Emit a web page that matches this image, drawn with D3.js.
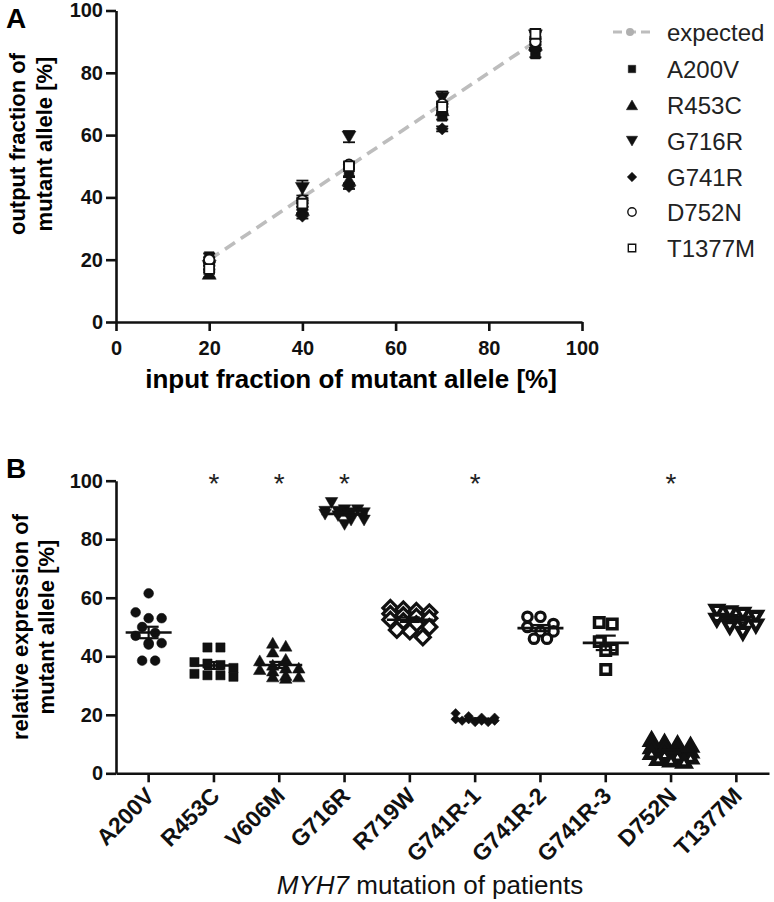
<!DOCTYPE html>
<html><head><meta charset="utf-8">
<script src="https://cdn.jsdelivr.net/npm/d3@7"></script>
<style>
html,body{margin:0;padding:0;background:#fff;}
svg{display:block;font-family:"Liberation Sans",Arial,sans-serif;}
</style></head>
<body><svg id="c" width="774" height="902"></svg>
<script>
// ---------- Panel A data ----------
const inputFractions = [20, 40, 50, 70, 90];
const expectedValues = [20, 40, 50, 70, 90];
const seriesNamesA = ["A200V", "R453C", "G716R", "G741R", "D752N", "T1377M"];
const valuesA200V  = [21, 37, 48, 66, 86];
const valuesR453C  = [15.5, 36, 45.5, 68, 89];
const valuesG716R  = [18, 43, 59.5, 72, 92];
const valuesG741R  = [19, 34, 43.5, 62, 88];
const valuesD752N  = [20, 39, 50.5, 70, 90];
const valuesT1377M = [17, 38, 50, 69, 92.5];
const errA200V  = [1, 1, 1.2, 1, 1];
const errR453C  = [1.2, 1, 1, 1, 1];
const errG716R  = [1, 2.4, 1.8, 2, 1];
const errG741R  = [0.8, 0.8, 0.8, 0.8, 0.8];
const errD752N  = [0.8, 0.8, 0.8, 0.8, 0.8];
const errT1377M = [1, 1, 1, 1.2, 1];
const ticksA = [0, 20, 40, 60, 80, 100];

// ---------- Panel B data ----------
const categoriesB = ["A200V","R453C","V606M","G716R","R719W","G741R-1","G741R-2","G741R-3","D752N","T1377M"];
const exprA200V   = [61.5, 55, 53, 53, 50, 48, 47, 44.5, 44.5, 44, 38.5, 38.5];
const exprR453C   = [43, 43, 38, 37.5, 37, 36, 34, 33.5, 33.5, 33];
const exprV606M   = [44.5, 43.5, 41.5, 39, 38.5, 37, 36, 36, 35.5, 35, 33.5, 33, 33, 32.5];
const exprG716R   = [92.5, 90, 90, 89.5, 89.5, 89, 89, 88.5, 88, 86.5, 86.5, 85];
const exprR719W   = [56.5, 56, 55.5, 55, 54.5, 54, 53.5, 53, 52.5, 52, 51, 50, 49, 48.5, 46.5];
const exprG741R1  = [20.5, 19.5, 19, 19, 18.5, 18.5, 18, 18, 17.5, 17.5, 18];
const exprG741R2  = [53.5, 53.5, 51, 50, 48.5, 48.5, 46, 46];
const exprG741R3  = [51.5, 51, 45, 42.5, 42, 35.5];
const exprD752N   = [11.5, 10.5, 10, 9.5, 9, 8.5, 8, 7.5, 7, 6.5, 6, 5.5, 5, 4.5, 4];
const exprT1377M  = [55.5, 55, 54.5, 53.5, 52.5, 52, 51.5, 50.5, 50, 48];
const significantB = ["R453C","V606M","G716R","G741R-1","D752N"];
const ticksB = [0, 20, 40, 60, 80, 100];

// ---------- helpers ----------
const svg = d3.select("#c");
function markerPath(shape, size){
  const t = {square:d3.symbolSquare, circle:d3.symbolCircle, triUp:d3.symbolTriangle,
             triDown:d3.symbolTriangle, diamond:d3.symbolSquare}[shape];
  return d3.symbol().type(t).size(size)();
}
function markerTransform(shape, x, y){
  let t = `translate(${x},${y})`;
  if (shape === "triDown") t += " rotate(180)";
  if (shape === "diamond") t += " rotate(45)";
  if (shape === "triUp" || shape === "triDown") t += " translate(0,1.5)";
  return t;
}
function drawMarker(g, shape, open, size, x, y, sw){
  g.append("path")
    .attr("d", markerPath(shape, size))
    .attr("transform", markerTransform(shape, x, y))
    .attr("fill", open ? "#fff" : "#111")
    .attr("stroke", "#111")
    .attr("stroke-width", open ? sw : 0.5)
    .attr("stroke-linejoin", "miter");
}
const axisStroke = 2.6;
function styleAxis(g, fs){
  g.selectAll(".domain").attr("stroke","#111").attr("stroke-width",axisStroke);
  g.selectAll(".tick line").attr("stroke","#111").attr("stroke-width",axisStroke);
  g.selectAll(".tick text").attr("fill","#111").attr("font-size",fs).attr("font-weight","bold")
    .attr("font-family","'Liberation Sans',Arial,sans-serif");
}

// ================= PANEL A =================
const xA = d3.scaleLinear().domain([0,100]).range([116, 582]);
const yA = d3.scaleLinear().domain([0,100]).range([322, 10.5]);

const gAy = svg.append("g").attr("transform","translate(116,0)")
  .call(d3.axisLeft(yA).tickValues(ticksA).tickSize(10).tickPadding(3).tickSizeOuter(0));
styleAxis(gAy, "20px");
const gAx = svg.append("g").attr("transform","translate(0,322)")
  .call(d3.axisBottom(xA).tickValues(ticksA).tickSize(9).tickPadding(10).tickSizeOuter(0));
styleAxis(gAx, "20px");

// expected line
const expLine = d3.line().x((d,i)=>xA(inputFractions[i])).y(d=>yA(d));
svg.append("path").attr("d", expLine(expectedValues))
  .attr("fill","none").attr("stroke","#bdbdbd").attr("stroke-width",3.6)
  .attr("stroke-dasharray","12,7");
svg.append("g").selectAll("circle").data(expectedValues).join("circle")
  .attr("cx",(d,i)=>xA(inputFractions[i])).attr("cy",d=>yA(d)).attr("r",4.5).attr("fill","#b0b0b0");

const seriesA = [
  {name:"A200V", vals:valuesA200V, err:errA200V, shape:"square", open:false},
  {name:"R453C", vals:valuesR453C, err:errR453C, shape:"triUp", open:false},
  {name:"G716R", vals:valuesG716R, err:errG716R, shape:"triDown", open:false},
  {name:"G741R", vals:valuesG741R, err:errG741R, shape:"diamond", open:false},
  {name:"D752N", vals:valuesD752N, err:errD752N, shape:"circle", open:true},
  {name:"T1377M", vals:valuesT1377M, err:errT1377M, shape:"square", open:true}
];
const sizeA = {square:95, triUp:85, triDown:85, diamond:75, circle:85};
const gA = svg.append("g");
seriesA.forEach(s=>{
  s.vals.forEach((v,i)=>{
    const x = xA(inputFractions[i]);
    const e = s.err[i];
    gA.append("line").attr("x1",x).attr("x2",x).attr("y1",yA(v-e)).attr("y2",yA(v+e))
      .attr("stroke","#111").attr("stroke-width",1.8);
    [v-e, v+e].forEach(w=>gA.append("line").attr("x1",x-6).attr("x2",x+6).attr("y1",yA(w)).attr("y2",yA(w))
      .attr("stroke","#111").attr("stroke-width",1.8));
  });
});
seriesA.forEach(s=>{
  s.vals.forEach((v,i)=>{
    drawMarker(gA, s.shape, s.open, sizeA[s.shape], xA(inputFractions[i]), yA(v), 1.8);
  });
});

// legend
const legendNames = ["expected"].concat(seriesNamesA);
const legY = [32, 69, 105, 141, 177, 212, 248];
const gL = svg.append("g");
legendNames.forEach((n,i)=>{
  const y = legY[i];
  if (i===0){
    gL.append("line").attr("x1",613).attr("x2",650).attr("y1",y).attr("y2",y)
      .attr("stroke","#bdbdbd").attr("stroke-width",3).attr("stroke-dasharray","9,5");
    gL.append("circle").attr("cx",630).attr("cy",y).attr("r",4).attr("fill","#b0b0b0");
  } else {
    const s = seriesA[i-1];
    drawMarker(gL, s.shape, s.open, s.shape==="diamond"?45:55, 632, y, 1.4);
  }
  gL.append("text").attr("x",667).attr("y",y+8.5).attr("font-size","24px").attr("fill","#222").text(n);
});

// labels A
svg.append("text").attr("x",6).attr("y",28).attr("font-size","28px").attr("font-weight","bold").text("A");
svg.append("text").attr("transform","translate(25,144) rotate(-90)").attr("text-anchor","middle")
  .attr("font-size","22px").attr("font-weight","bold").text("output fraction of");
svg.append("text").attr("transform","translate(52,144) rotate(-90)").attr("text-anchor","middle")
  .attr("font-size","22px").attr("font-weight","bold").text("mutant allele [%]");
svg.append("text").attr("x",351).attr("y",388).attr("text-anchor","middle")
  .attr("font-size","26px").attr("font-weight","bold").text("input fraction of mutant allele [%]");

// ================= PANEL B =================
const xB = d3.scaleBand().domain(categoriesB).range([116, 769]).padding(0);
const yB = d3.scaleLinear().domain([0,100]).range([773.3, 480.7]);

const gBy = svg.append("g").attr("transform","translate(116,0)")
  .call(d3.axisLeft(yB).tickValues(ticksB).tickSize(10).tickPadding(3).tickSizeOuter(0));
styleAxis(gBy, "20px");
const gBx = svg.append("g").attr("transform","translate(0,773.3)")
  .call(d3.axisBottom(xB).tickSize(9).tickSizeOuter(0));
styleAxis(gBx, "23px");
gBx.selectAll(".tick text").attr("text-anchor","end")
  .attr("transform","translate(7,24) rotate(-45)").attr("dy","0").attr("y",0).attr("x",0);

const groupsB = [
  {cat:"A200V", vals:exprA200V, shape:"circle", open:false, size:75, sw:0},
  {cat:"R453C", vals:exprR453C, shape:"square", open:false, size:85, sw:0},
  {cat:"V606M", vals:exprV606M, shape:"triUp", open:false, size:68, sw:0},
  {cat:"G716R", vals:exprG716R, shape:"triDown", open:false, size:68, sw:0},
  {cat:"R719W", vals:exprR719W, shape:"diamond", open:true, size:110, sw:3.2},
  {cat:"G741R-1", vals:exprG741R1, shape:"diamond", open:false, size:45, sw:0},
  {cat:"G741R-2", vals:exprG741R2, shape:"circle", open:true, size:70, sw:3.2},
  {cat:"G741R-3", vals:exprG741R3, shape:"square", open:true, size:90, sw:3.5},
  {cat:"D752N", vals:exprD752N, shape:"triUp", open:true, size:62, sw:4.6},
  {cat:"T1377M", vals:exprT1377M, shape:"triDown", open:true, size:62, sw:4.2}
];
const gB = svg.append("g");
groupsB.forEach(gr=>{
  const cx = xB(gr.cat) + xB.bandwidth()/2;
  const sorted = gr.vals.slice().sort((a,b)=>b-a);
  // row layout: points close in pixel space share a row and spread sideways
  const rows = [];
  sorted.forEach(v=>{
    const last = rows[rows.length-1];
    if (last && yB(v) - yB(last[0]) < 7.5 && last.length < 4) last.push(v); else rows.push([v]);
  });
  rows.forEach(r=>{
    r.forEach((v,i)=>{
      const off = (i - (r.length-1)/2) * 13;
      drawMarker(gB, gr.shape, gr.open, gr.size, cx+off, yB(v), gr.sw);
    });
  });
  const mean = d3.mean(gr.vals);
  const sem = d3.deviation(gr.vals)/Math.sqrt(gr.vals.length);
  gB.append("line").attr("x1",cx-23).attr("x2",cx+23).attr("y1",yB(mean)).attr("y2",yB(mean))
    .attr("stroke","#111").attr("stroke-width",2.6);
  gB.append("line").attr("x1",cx).attr("x2",cx).attr("y1",yB(mean-sem)).attr("y2",yB(mean+sem))
    .attr("stroke","#111").attr("stroke-width",2.2);
  [mean-sem, mean+sem].forEach(w=>gB.append("line").attr("x1",cx-10).attr("x2",cx+10)
    .attr("y1",yB(w)).attr("y2",yB(w)).attr("stroke","#111").attr("stroke-width",2.2));
});
// significance asterisks
svg.append("g").selectAll("text").data(significantB).join("text")
  .attr("x",d=>xB(d)+xB.bandwidth()/2).attr("y",yB(100)+12).attr("text-anchor","middle")
  .attr("font-size","28px").attr("fill","#222").text("*");

// labels B
svg.append("text").attr("x",6).attr("y",478).attr("font-size","28px").attr("font-weight","bold").text("B");
svg.append("text").attr("transform","translate(28,627) rotate(-90)").attr("text-anchor","middle")
  .attr("font-size","22px").attr("font-weight","bold").text("relative expression of");
svg.append("text").attr("transform","translate(54,627) rotate(-90)").attr("text-anchor","middle")
  .attr("font-size","22px").attr("font-weight","bold").text("mutant allele [%]");
const tB = svg.append("text").attr("x",430).attr("y",894).attr("text-anchor","middle")
  .attr("font-size","26px").attr("fill","#111");
tB.append("tspan").attr("font-style","italic").text("MYH7");
tB.append("tspan").text(" mutation of patients");
</script></body></html>
